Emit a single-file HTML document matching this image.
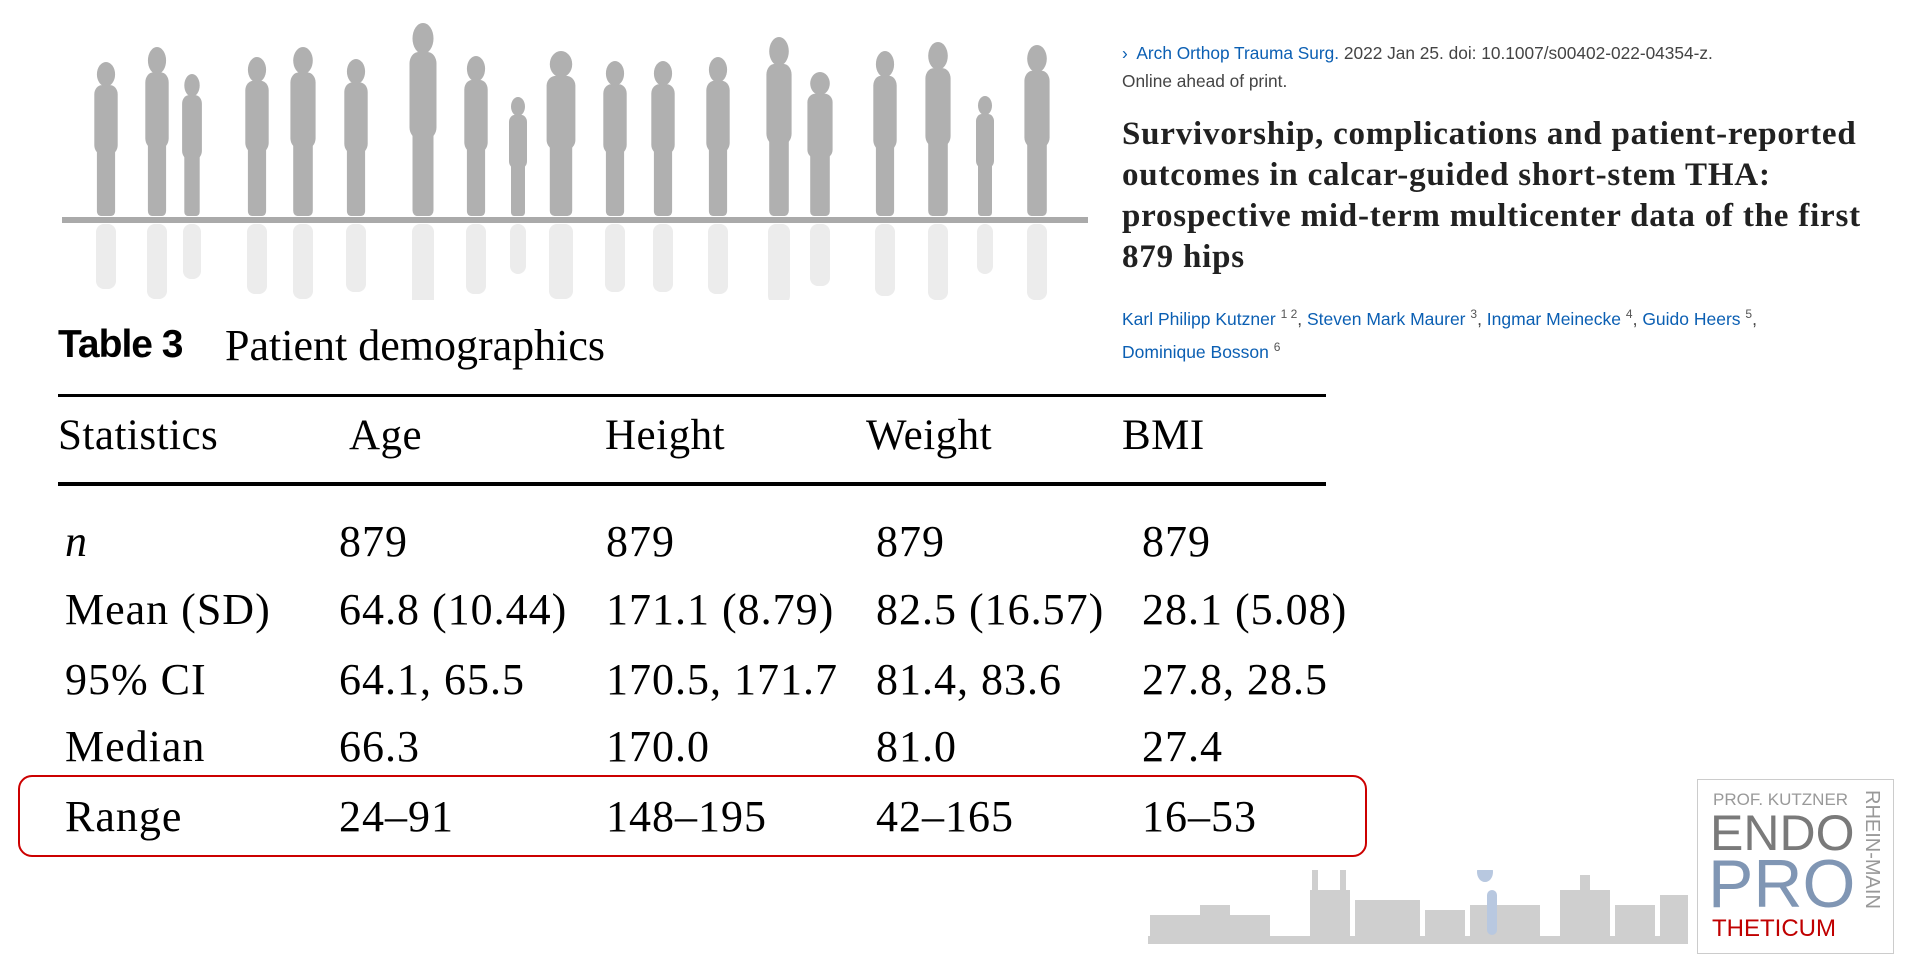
<!DOCTYPE html>
<html><head><meta charset="utf-8"><style>
body{margin:0;width:1920px;height:968px;background:#fff;position:relative;overflow:hidden;font-family:"Liberation Serif",serif;}
.a{position:absolute;white-space:nowrap;}
.s{font-family:"Liberation Sans",sans-serif;}
.v{font-size:44px;color:#000;letter-spacing:1px;}
.h{font-size:43px;color:#000;letter-spacing:0.5px;}
.blue{color:#0b5fb3;}
</style></head><body>
<svg class="a" style="left:0;top:0" width="1100" height="300">
<defs>
<g id="p"><ellipse cx="0" cy="8" rx="7" ry="8"/><rect x="-9" y="15" width="18" height="45" rx="6"/><rect x="-7" y="55" width="14" height="45" rx="3"/></g>
</defs>
<g fill="#b0b0b0">
<use href="#p" transform="translate(106,62) scale(1.3,1.54)"/>
<use href="#p" transform="translate(157,47) scale(1.3,1.69)"/>
<use href="#p" transform="translate(192,74) scale(1.1,1.42)"/>
<use href="#p" transform="translate(257,57) scale(1.3,1.59)"/>
<use href="#p" transform="translate(303,47) scale(1.4,1.69)"/>
<use href="#p" transform="translate(356,59) scale(1.3,1.57)"/>
<use href="#p" transform="translate(423,23) scale(1.5,1.93)"/>
<use href="#p" transform="translate(476,56) scale(1.3,1.60)"/>
<use href="#p" transform="translate(518,97) scale(1.0,1.19)"/>
<use href="#p" transform="translate(561,51) scale(1.6,1.65)"/>
<use href="#p" transform="translate(615,61) scale(1.3,1.55)"/>
<use href="#p" transform="translate(663,61) scale(1.3,1.55)"/>
<use href="#p" transform="translate(718,57) scale(1.3,1.59)"/>
<use href="#p" transform="translate(779,37) scale(1.4,1.79)"/>
<use href="#p" transform="translate(820,72) scale(1.4,1.44)"/>
<use href="#p" transform="translate(885,51) scale(1.3,1.65)"/>
<use href="#p" transform="translate(938,42) scale(1.4,1.74)"/>
<use href="#p" transform="translate(985,96) scale(1.0,1.20)"/>
<use href="#p" transform="translate(1037,45) scale(1.4,1.71)"/>
</g>
<g fill="#ececec">
<rect x="96" y="224" width="20" height="65" rx="8"/><rect x="147" y="224" width="20" height="75" rx="8"/><rect x="183" y="224" width="18" height="55" rx="8"/>
<rect x="247" y="224" width="20" height="70" rx="8"/><rect x="293" y="224" width="20" height="75" rx="8"/><rect x="346" y="224" width="20" height="68" rx="8"/>
<rect x="412" y="224" width="22" height="85" rx="8"/><rect x="466" y="224" width="20" height="70" rx="8"/><rect x="510" y="224" width="16" height="50" rx="8"/>
<rect x="549" y="224" width="24" height="75" rx="8"/><rect x="605" y="224" width="20" height="68" rx="8"/><rect x="653" y="224" width="20" height="68" rx="8"/>
<rect x="708" y="224" width="20" height="70" rx="8"/><rect x="768" y="224" width="22" height="80" rx="8"/><rect x="810" y="224" width="20" height="62" rx="8"/>
<rect x="875" y="224" width="20" height="72" rx="8"/><rect x="928" y="224" width="20" height="76" rx="8"/><rect x="977" y="224" width="16" height="50" rx="8"/><rect x="1027" y="224" width="20" height="76" rx="8"/>
</g>
<rect x="62" y="217" width="1026" height="6" fill="#aaa"/>
</svg>
<div class="a s" style="left:58px;top:323px;font-size:39px;font-weight:bold;letter-spacing:-1px">Table 3</div>
<div class="a" style="left:225px;top:320px;font-size:44px">Patient demographics</div>
<div class="a" style="left:58px;top:394px;width:1268px;height:3px;background:#000"></div>
<div class="a" style="left:58px;top:482px;width:1268px;height:4px;background:#000"></div>
<div class="a h" style="left:58px;top:411px">Statistics</div>
<div class="a h" style="left:349px;top:411px">Age</div>
<div class="a h" style="left:605px;top:411px">Height</div>
<div class="a h" style="left:866px;top:411px">Weight</div>
<div class="a h" style="left:1122px;top:411px">BMI</div>

<div class="a v" style="left:65px;top:516px;font-style:italic">n</div>
<div class="a v" style="left:339px;top:516px">879</div><div class="a v" style="left:606px;top:516px">879</div><div class="a v" style="left:876px;top:516px">879</div><div class="a v" style="left:1142px;top:516px">879</div>
<div class="a v" style="left:65px;top:584px">Mean (SD)</div>
<div class="a v" style="left:339px;top:584px">64.8 (10.44)</div><div class="a v" style="left:606px;top:584px">171.1 (8.79)</div><div class="a v" style="left:876px;top:584px">82.5 (16.57)</div><div class="a v" style="left:1142px;top:584px">28.1 (5.08)</div>
<div class="a v" style="left:65px;top:654px">95% CI</div>
<div class="a v" style="left:339px;top:654px">64.1, 65.5</div><div class="a v" style="left:606px;top:654px">170.5, 171.7</div><div class="a v" style="left:876px;top:654px">81.4, 83.6</div><div class="a v" style="left:1142px;top:654px">27.8, 28.5</div>
<div class="a v" style="left:65px;top:721px">Median</div>
<div class="a v" style="left:339px;top:721px">66.3</div><div class="a v" style="left:606px;top:721px">170.0</div><div class="a v" style="left:876px;top:721px">81.0</div><div class="a v" style="left:1142px;top:721px">27.4</div>
<div class="a v" style="left:65px;top:791px">Range</div>
<div class="a v" style="left:339px;top:791px">24–91</div><div class="a v" style="left:606px;top:791px">148–195</div><div class="a v" style="left:876px;top:791px">42–165</div><div class="a v" style="left:1142px;top:791px">16–53</div>
<div class="a" style="left:18px;top:775px;width:1345px;height:78px;border:2px solid #c00;border-radius:14px"></div>

<div class="a s" style="left:1122px;top:43px;font-size:17.3px;color:#444"><span class="blue">›&nbsp; Arch Orthop Trauma Surg.</span> 2022 Jan 25. doi: 10.1007/s00402-022-04354-z.</div>
<div class="a s" style="left:1122px;top:71px;font-size:17.3px;color:#444">Online ahead of print.</div>
<div class="a" style="left:1122px;top:114px;font-size:33px;font-weight:bold;line-height:41px;color:#212121;letter-spacing:0.8px">Survivorship, complications and patient-reported<br>outcomes in calcar-guided short-stem THA:<br>prospective mid-term multicenter data of the first<br>879 hips</div>
<div class="a s blue" style="left:1122px;top:300px;font-size:17.5px;line-height:28px">Karl Philipp Kutzner <sup style="color:#555;font-size:12px">1 2</sup><span style="color:#444">,</span> Steven Mark Maurer <sup style="color:#555;font-size:12px">3</sup><span style="color:#444">,</span> Ingmar Meinecke <sup style="color:#555;font-size:12px">4</sup><span style="color:#444">,</span> Guido Heers <sup style="color:#555;font-size:12px">5</sup><span style="color:#444">,</span><br>Dominique Bosson <sup style="color:#555;font-size:12px">6</sup></div>

<svg class="a" style="left:1140px;top:870px" width="560" height="80">
<g fill="#cfcfcf">
<rect x="8" y="66" width="540" height="8"/>
<rect x="10" y="45" width="120" height="22"/><rect x="60" y="35" width="30" height="32"/>
<rect x="170" y="20" width="40" height="47"/><rect x="172" y="0" width="6" height="25"/><rect x="200" y="0" width="6" height="25"/>
<rect x="215" y="30" width="65" height="37"/><rect x="285" y="40" width="40" height="27"/><rect x="330" y="35" width="70" height="32"/>
<rect x="420" y="20" width="50" height="47"/><rect x="440" y="5" width="10" height="20"/>
<rect x="475" y="35" width="40" height="32"/><rect x="520" y="25" width="28" height="42"/>
</g>
<ellipse cx="345" cy="2" rx="8" ry="10" fill="#b8c8e0"/><rect x="347" y="20" width="10" height="45" rx="5" fill="#b8c8e0"/>
</svg>
<div class="a" style="left:1697px;top:779px;width:195px;height:173px;border:1px solid #ccc;"></div>
<div class="a s" style="left:1713px;top:790px;font-size:17px;color:#999">PROF. KUTZNER</div>
<div class="a s" style="left:1710px;top:805px;font-size:50px;color:#7a7a7a;line-height:56px">ENDO</div>
<div class="a s" style="left:1708px;top:849px;font-size:68px;color:#8096b4;line-height:70px">PRO</div>
<div class="a s" style="left:1712px;top:915px;font-size:24px;color:#c00000">THETICUM</div>
<div class="a s" style="left:1860px;top:790px;font-size:20px;color:#999;writing-mode:vertical-rl">RHEIN-MAIN</div>
</body></html>
